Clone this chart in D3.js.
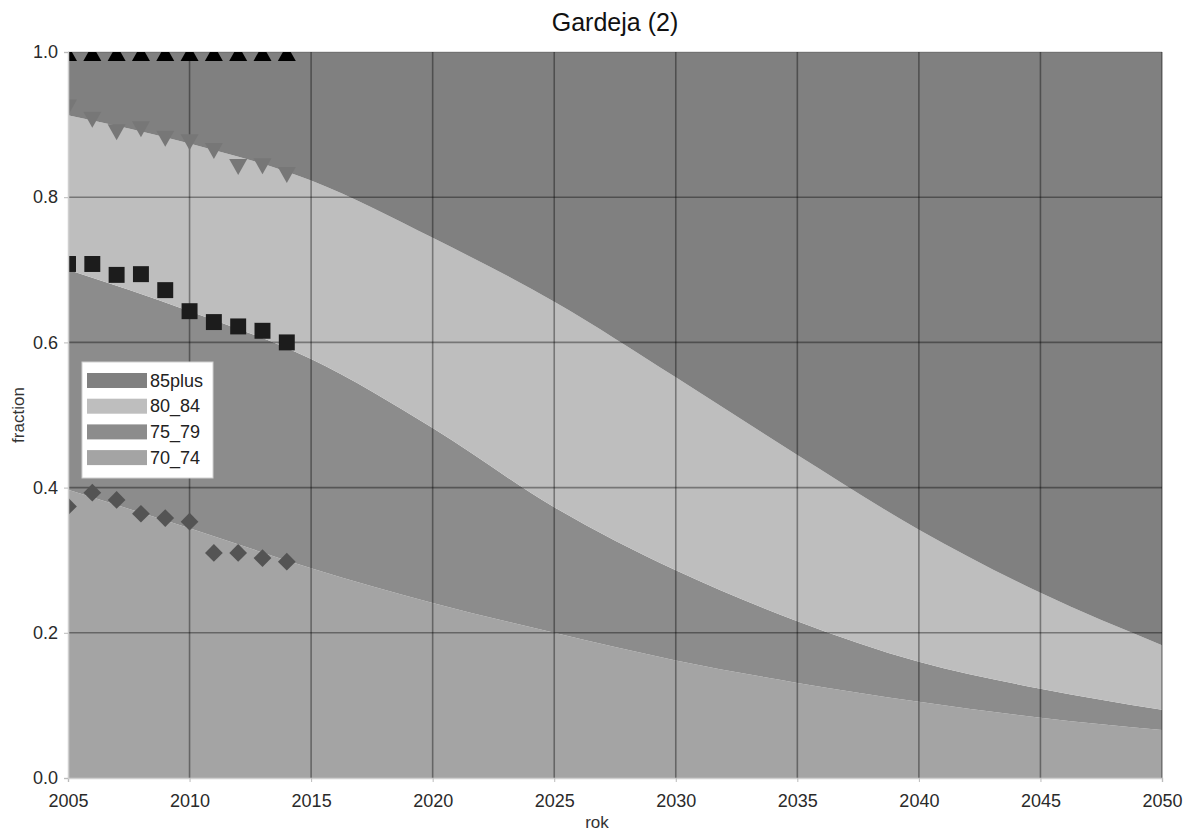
<!DOCTYPE html>
<html>
<head>
<meta charset="utf-8">
<script src="https://cdn.jsdelivr.net/npm/d3@7"></script>
<style>
  body { margin: 0; background: #fff; }
  svg { display: block; font-family: "Liberation Sans", Arial, sans-serif; }
</style>
</head>
<body>
<svg id="chart" width="1186" height="833"></svg>
<script>
// ---- data ----
const years = [2005, 2010, 2015, 2020, 2025, 2030, 2035, 2040, 2045, 2050];
const s70_74  = [0.397, 0.344, 0.289, 0.241, 0.200, 0.162, 0.131, 0.105, 0.083, 0.066];
const s75_79  = [0.303, 0.299, 0.288, 0.241, 0.173, 0.124, 0.085, 0.055, 0.040, 0.028];
const s80_84  = [0.213, 0.231, 0.246, 0.262, 0.283, 0.266, 0.229, 0.182, 0.132, 0.089];
const s85plus = [0.087, 0.126, 0.177, 0.256, 0.344, 0.448, 0.555, 0.658, 0.745, 0.817];

// observed cumulative fractions (markers)
const obsYears   = [2005, 2006, 2007, 2008, 2009, 2010, 2011, 2012, 2013, 2014];
const obsTotal   = [1.0, 1.0, 1.0, 1.0, 1.0, 1.0, 1.0, 1.0, 1.0, 1.0];
const obsTo80_84 = [0.925, 0.908, 0.891, 0.895, 0.882, 0.877, 0.865, 0.843, 0.844, 0.832];
const obsTo75_79 = [0.708, 0.708, 0.693, 0.694, 0.672, 0.643, 0.628, 0.622, 0.616, 0.600];
const obsTo70_74 = [0.374, 0.393, 0.383, 0.364, 0.358, 0.353, 0.310, 0.310, 0.303, 0.298];

const seriesKeys = ["70_74", "75_79", "80_84", "85plus"];
const legendKeys = ["85plus", "80_84", "75_79", "70_74"];
const xTicks = [2005, 2010, 2015, 2020, 2025, 2030, 2035, 2040, 2045, 2050];
const yTicks = [0.0, 0.2, 0.4, 0.6, 0.8, 1.0];
const colors = { "85plus": "#808080", "80_84": "#bebebe", "75_79": "#8c8c8c", "70_74": "#a4a4a4" };

// ---- layout ----
const svg = d3.select("#chart");
const margin = { left: 68, right: 1162, top: 52, bottom: 778 };
const x = d3.scaleLinear().domain([2005, 2050]).range([margin.left, margin.right]);
const y = d3.scaleLinear().domain([0, 1]).range([margin.bottom, margin.top]);

const table = years.map((yr, i) => ({
  year: yr, "70_74": s70_74[i], "75_79": s75_79[i], "80_84": s80_84[i], "85plus": s85plus[i]
}));
const stacked = d3.stack().keys(seriesKeys)(table);

svg.append("defs").append("clipPath").attr("id", "plotclip")
  .append("rect")
  .attr("x", margin.left).attr("y", margin.top)
  .attr("width", margin.right - margin.left).attr("height", margin.bottom - margin.top);

const plot = svg.append("g").attr("clip-path", "url(#plotclip)");

const area = d3.area()
  .x(d => x(d.data.year))
  .y0(d => y(d[0]))
  .y1(d => y(d[1]))
  .curve(d3.curveMonotoneX);

plot.selectAll("path.area").data(stacked).join("path")
  .attr("class", "area")
  .attr("fill", d => colors[d.key])
  .attr("d", area);

// grid lines
const grid = svg.append("g");
grid.selectAll("line.v").data(xTicks.slice(1)).join("line")
  .attr("x1", d => x(d)).attr("x2", d => x(d))
  .attr("y1", margin.top).attr("y2", margin.bottom)
  .attr("stroke", "#000").attr("stroke-opacity", 0.38).attr("stroke-width", 1.6);
grid.selectAll("line.h").data(yTicks.slice(1)).join("line")
  .attr("x1", margin.left).attr("x2", margin.right)
  .attr("y1", d => y(d)).attr("y2", d => y(d))
  .attr("stroke", "#000").attr("stroke-opacity", d => d === 1 ? 0.15 : 0.38).attr("stroke-width", 1.6);

// markers
const upTri = { draw(ctx) { ctx.moveTo(0, -7); ctx.lineTo(9, 9); ctx.lineTo(-9, 9); ctx.closePath(); } };
const downTri = { draw(ctx) { ctx.moveTo(-9, -7); ctx.lineTo(9, -7); ctx.lineTo(0, 9); ctx.closePath(); } };
const markerSets = [
  { vals: obsTo70_74, sym: d3.symbol(d3.symbolDiamond2, 200), fill: "#545454" },
  { vals: obsTo75_79, sym: d3.symbol(d3.symbolSquare2, 324), fill: "#1c1c1c" },
  { vals: obsTo80_84, sym: d3.symbol(downTri), fill: "#777777" },
  { vals: obsTotal,   sym: d3.symbol(upTri), fill: "#000000" }
];
const mk = svg.append("g").attr("clip-path", "url(#plotclip)");
markerSets.forEach(ms => {
  mk.append("g").selectAll("path").data(obsYears.map((yr, i) => [yr, ms.vals[i]])).join("path")
    .attr("transform", d => `translate(${x(d[0])},${y(d[1])})`)
    .attr("d", ms.sym)
    .attr("fill", ms.fill);
});

// axes
const xAxis = svg.append("g").attr("transform", `translate(0,${margin.bottom})`)
  .call(d3.axisBottom(x).tickValues(xTicks).tickFormat(d3.format("d")).tickSize(4).tickPadding(12));
const yAxis = svg.append("g").attr("transform", `translate(${margin.left},0)`)
  .call(d3.axisLeft(y).tickValues(yTicks).tickFormat(d3.format(".1f")).tickSize(4).tickPadding(6));
[xAxis, yAxis].forEach(a => {
  a.select(".domain").attr("stroke", "#cfcfcf").attr("stroke-width", 1.5);
  a.selectAll(".tick line").attr("stroke", "#bbbbbb");
  a.selectAll(".tick text").attr("fill", "#2a2a2a").style("font-size", "18px")
    .style("font-family", "'Liberation Sans', Arial, sans-serif");
});

// titles
svg.append("text").attr("x", (margin.left + margin.right) / 2).attr("y", 31)
  .attr("text-anchor", "middle").attr("fill", "#111").style("font-size", "25px")
  .text("Gardeja (2)");
svg.append("text").attr("x", 597).attr("y", 828)
  .attr("text-anchor", "middle").attr("fill", "#333").style("font-size", "17px")
  .text("rok");
svg.append("text").attr("transform", "translate(24,415) rotate(-90)")
  .attr("text-anchor", "middle").attr("fill", "#333").style("font-size", "17px")
  .text("fraction");

// legend
const lg = svg.append("g");
lg.append("rect").attr("x", 82).attr("y", 362).attr("width", 131).attr("height", 116)
  .attr("fill", "#fff").attr("stroke", "#d0d0d0").attr("stroke-width", 1);
legendKeys.forEach((k, i) => {
  const cy = 380 + i * 25.7;
  lg.append("rect").attr("x", 87).attr("y", cy - 7).attr("width", 60).attr("height", 15)
    .attr("fill", colors[k]);
  lg.append("text").attr("x", 150).attr("y", cy + 6.5)
    .attr("fill", "#222").style("font-size", "18px").text(k);
});
</script>
</body>
</html>
